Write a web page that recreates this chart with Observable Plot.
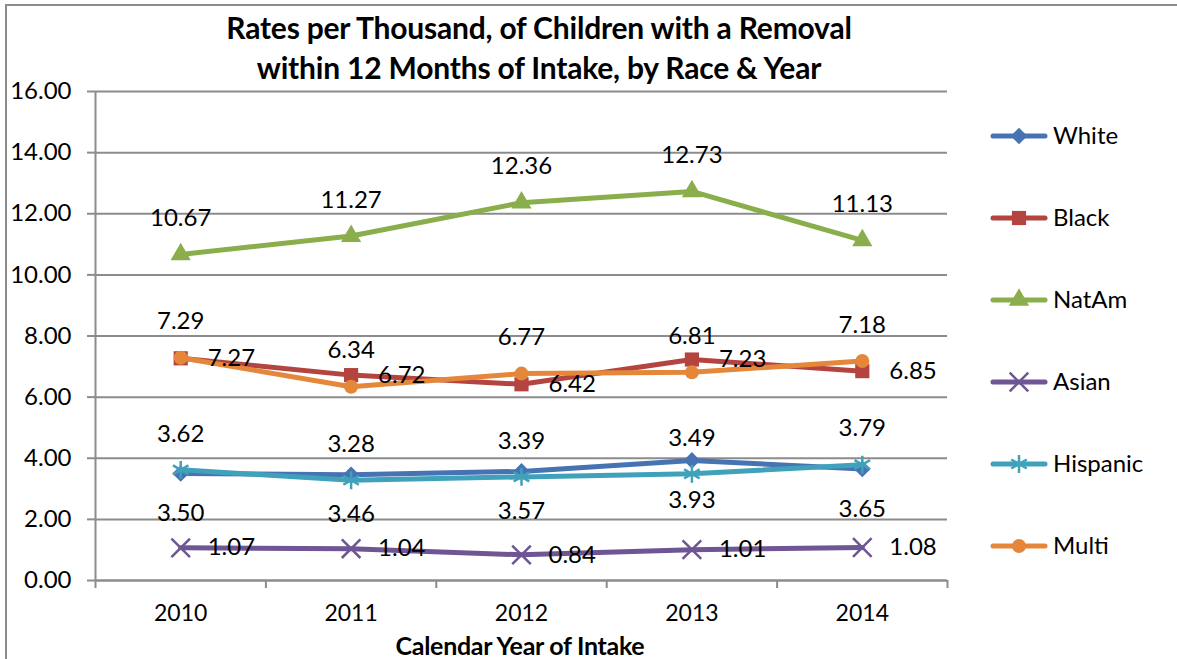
<!DOCTYPE html>
<html>
<head>
<meta charset="utf-8">
<script src="https://cdn.jsdelivr.net/npm/d3@7"></script>
<script src="https://cdn.jsdelivr.net/npm/@observablehq/plot@0.6"></script>
<style>
  html, body { margin: 0; padding: 0; background: #fff; }
  #wrap { position: relative; width: 1177px; height: 659px; overflow: hidden; font-family: Lato, "Open Sans", sans-serif; color: #000; }
  #frame { position: absolute; left: 5px; top: 4px; width: 1300px; height: 800px; border-left: 2px solid #8c8c8c; border-top: 2px solid #8c8c8c; }
  #title { position: absolute; left: 0; width: 1078px; top: 7px; text-align: center; font-weight: 700; font-size: 30px; line-height: 40px; letter-spacing: -0.2px; }
  #xtitle { position: absolute; left: 95px; width: 850px; top: 629px; text-align: center; font-weight: 700; font-size: 25px; line-height: 32px; letter-spacing: -0.3px; }
  #chart, #legend { position: absolute; left: 0; top: 0; }
</style>
</head>
<body>
<div id="wrap">
  <div id="frame"></div>
  <div id="chart"></div>
  <svg id="legend" width="1177" height="659"></svg>
  <div id="title">Rates per Thousand, of Children with a Removal<br>within 12 Months of Intake, by Race &amp; Year</div>
  <div id="xtitle">Calendar Year of Intake</div>
</div>
<script>
// Calendar years of intake
const years = [2010, 2011, 2012, 2013, 2014];

// Removal rates per thousand children, by race
const white    = [3.50, 3.46, 3.57, 3.93, 3.65];
const black    = [7.27, 6.72, 6.42, 7.23, 6.85];
const natAm    = [10.67, 11.27, 12.36, 12.73, 11.13];
const asian    = [1.07, 1.04, 0.84, 1.01, 1.08];
const hispanic = [3.62, 3.28, 3.39, 3.49, 3.79];
const multi    = [7.29, 6.34, 6.77, 6.81, 7.18];

const races = ["White", "Black", "NatAm", "Asian", "Hispanic", "Multi"];
const yTicks = [0, 2, 4, 6, 8, 10, 12, 14, 16];

// Drawing style for each series: colour, marker, and where its value label sits
const styles = {
  White:    {values: white,    color: "#4674B3", symbol: "diamond2", filled: true,  r: 7.5, label: "below"},
  Black:    {values: black,    color: "#B4443F", symbol: "square",   filled: true,  r: 8,   label: "right"},
  NatAm:    {values: natAm,    color: "#8AAE4C", symbol: "triangle", filled: true,  r: 7.5, label: "above"},
  Asian:    {values: asian,    color: "#6E5593", symbol: "times",    filled: false, r: 8.5, label: "right"},
  Hispanic: {values: hispanic, color: "#40A1BA", symbol: "asterisk", filled: false, r: 8.5, label: "above"},
  Multi:    {values: multi,    color: "#E5873A", symbol: "circle",   filled: true,  r: 7,   label: "above"}
};

const rows = races.flatMap(race => years.map((year, i) => ({race, year, value: styles[race].values[i]})));

// Category boundaries for the x-axis tick marks
const bounds = years.map(y => y - 0.5).concat([years[years.length - 1] + 0.5]);

const grey = "#8c8c8c";
const marks = [
  Plot.gridY(yTicks, {stroke: grey, strokeOpacity: 1, strokeWidth: 2}),
  Plot.ruleX([bounds[0]], {stroke: grey, strokeWidth: 2}),
  Plot.ruleY([0], {stroke: grey, strokeWidth: 2}),
  Plot.axisY(yTicks, {tickFormat: d => d.toFixed(2), tickSize: 8, tickPadding: 16, stroke: grey, strokeWidth: 2, color: "#000", fontSize: 24, label: null}),
  Plot.axisX(bounds, {tickSize: 8, tickFormat: () => "", stroke: grey, strokeWidth: 2, label: null}),
  Plot.axisX(years, {tickSize: 0, tickPadding: 24, tickFormat: d => String(d), color: "#000", fontSize: 23, label: null})
];

for (const race of races) {
  const s = styles[race];
  const data = rows.filter(d => d.race === race);
  marks.push(Plot.line(data, {x: "year", y: "value", stroke: s.color, strokeWidth: 5, strokeLinejoin: "round"}));
  marks.push(Plot.dot(data, {
    x: "year", y: "value", symbol: () => s.symbol, r: s.r,
    fill: s.filled ? s.color : "none",
    stroke: s.color, strokeWidth: s.filled ? 0 : 2.5
  }));
}

const fmt = d => d.value.toFixed(2);
for (const race of races) {
  const s = styles[race];
  const data = rows.filter(d => d.race === race);
  const opts = {x: "year", y: "value", text: fmt, fontSize: 24, fill: "#000"};
  if (s.label === "above") Object.assign(opts, {dy: -36});
  if (s.label === "below") Object.assign(opts, {dy: 40});
  if (s.label === "right") Object.assign(opts, {dx: 27, textAnchor: "start"});
  marks.push(Plot.text(data, opts));
}

const chart = Plot.plot({
  width: 1177,
  height: 659,
  marginLeft: 95,
  marginRight: 230,
  marginTop: 91,
  marginBottom: 79,
  style: {fontFamily: "Lato, 'Open Sans', sans-serif", background: "transparent", color: "#000"},
  x: {type: "linear", domain: [bounds[0], bounds[bounds.length - 1]], axis: null},
  y: {type: "linear", domain: [0, 16], axis: null},
  marks
});
document.getElementById("chart").appendChild(chart);

// Legend: line swatch with marker, followed by the series name
const legend = d3.select("#legend");
const symbolTypes = {diamond2: d3.symbolDiamond2, square: d3.symbolSquare, triangle: d3.symbolTriangle,
                     times: d3.symbolTimes, asterisk: d3.symbolAsterisk, circle: d3.symbolCircle};
races.forEach((race, i) => {
  const s = styles[race];
  const g = legend.append("g").attr("transform", `translate(1019,${136 + i * 82})`);
  g.append("line").attr("x1", -26).attr("x2", 26).attr("stroke", s.color).attr("stroke-width", 5).attr("stroke-linecap", "round");
  g.append("path")
    .attr("d", d3.symbol(symbolTypes[s.symbol], Math.PI * s.r * s.r)())
    .attr("fill", s.filled ? s.color : "none")
    .attr("stroke", s.color)
    .attr("stroke-width", s.filled ? 0 : 2.5);
  g.append("text").attr("x", 34).attr("dy", "0.35em")
    .attr("font-size", 24).attr("font-family", "Lato, 'Open Sans', sans-serif").attr("fill", "#000")
    .text(race);
});
</script>
</body>
</html>
